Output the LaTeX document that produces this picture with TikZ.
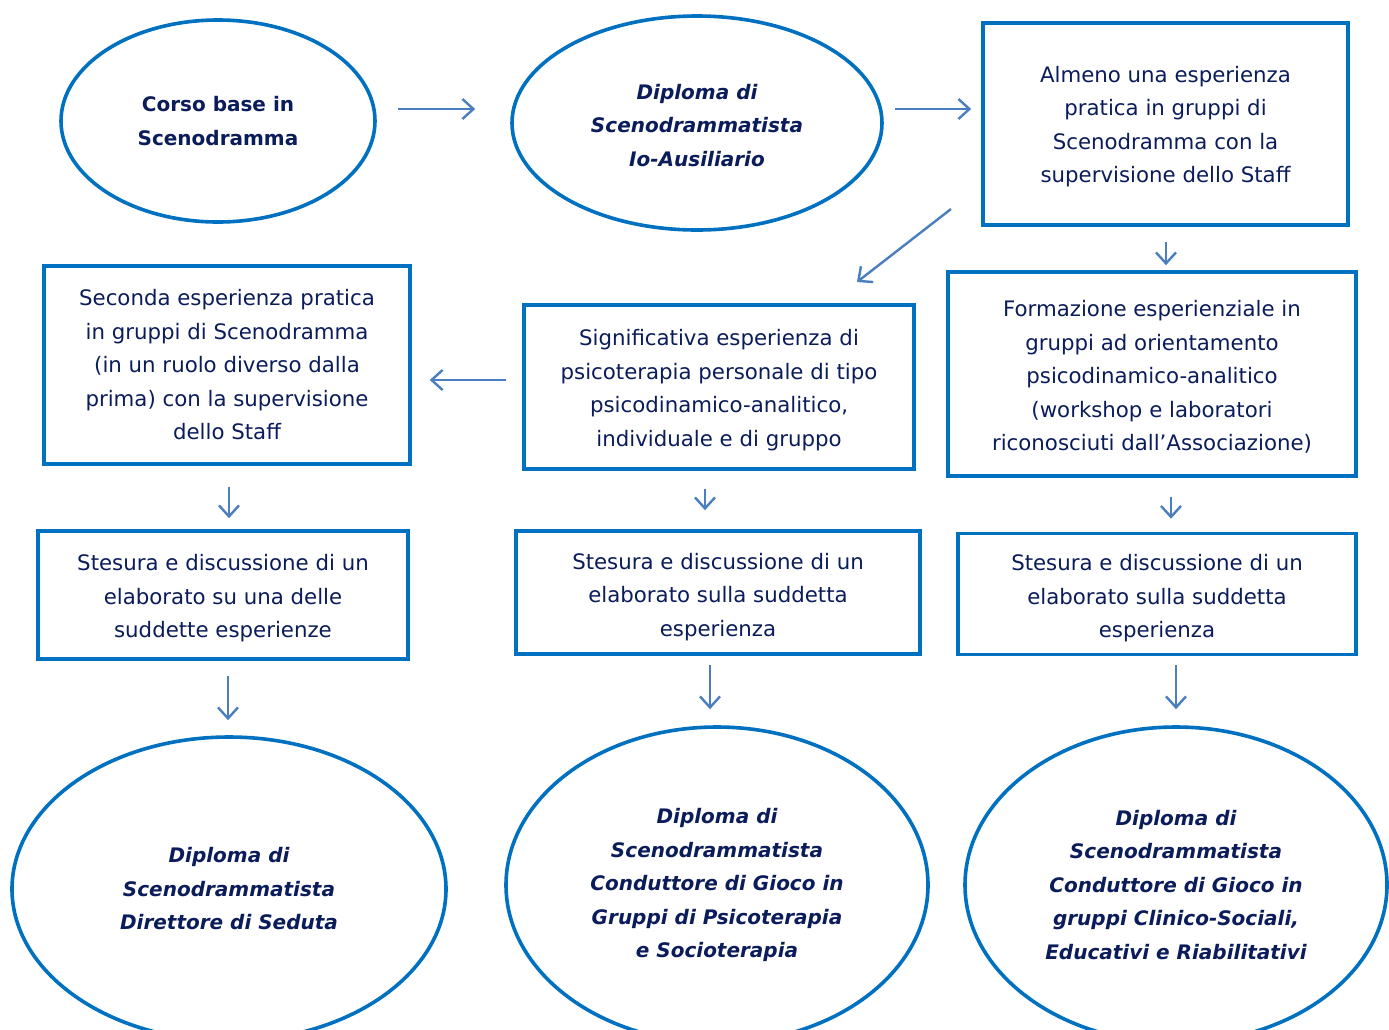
\documentclass[tikz,border=0pt]{standalone}
\usepackage{fontspec}
\setmainfont{DejaVu Sans}
\usetikzlibrary{arrows.meta,shapes.geometric}
\definecolor{txt}{HTML}{0B1C5A}
\definecolor{bord}{HTML}{0070C0}
\definecolor{arr}{HTML}{4A7EBE}
\newcommand\pushdn[1]{\mbox{}\\[#1]}
\tikzset{
  boxnode/.style={draw=bord,line width=3.6pt,rectangle,text=txt,align=center,inner sep=0pt,
    font=\fontsize{21.3}{33.5}\selectfont},
  ellnode/.style={draw=bord,line width=3.6pt,ellipse,text=txt,align=center,inner sep=0pt,
    font=\fontsize{20}{33.5}\selectfont\bfseries\itshape},
  conn/.style={draw=arr,line width=2.4pt,-{Straight Barb[length=11pt,width=20pt,line width=2.4pt]}},
}
\begin{document}
\begin{tikzpicture}[x=1pt,y=-1pt]
\useasboundingbox (0,0) rectangle (1389,1029);
\fill[white] (0,0) rectangle (1389,1029);
\begin{scope}
\clip (0,0) rectangle (1389,1029);
% top row
\node[ellnode,minimum width=314pt,minimum height=202pt,font=\fontsize{20}{33.5}\selectfont\bfseries] (e1) at (218,121) {Corso base in\\Scenodramma};
\node[ellnode,minimum width=370pt,minimum height=214pt] (e2) at (697,123) {\pushdn{-14pt}Diploma di\\Scenodrammatista\\Io-Ausiliario};
\node[boxnode,minimum width=365pt,minimum height=202pt] (b1) at (1165.5,124) {\pushdn{-12pt}Almeno una esperienza\\pratica in gruppi di\\Scenodramma con la\\supervisione dello Staff};
% second row
\node[boxnode,minimum width=366pt,minimum height=198pt] (sec) at (227,365) {Seconda esperienza pratica\\in gruppi di Scenodramma\\(in un ruolo diverso dalla\\prima) con la supervisione\\dello Staff};
\node[boxnode,minimum width=390pt,minimum height=164pt] (sig) at (719,387) {\pushdn{-11pt}Significativa esperienza di\\psicoterapia personale di tipo\\psicodinamico-analitico,\\individuale e di gruppo};
\node[boxnode,minimum width=408pt,minimum height=204pt] (form) at (1152,374) {\pushdn{-11pt}Formazione esperienziale in\\gruppi ad orientamento\\psicodinamico-analitico\\(workshop e laboratori\\riconosciuti dall’Associazione)};
% third row
\node[boxnode,minimum width=370pt,minimum height=128pt] (s1) at (223,595) {\pushdn{-11pt}Stesura e discussione di un\\elaborato su una delle\\suddette esperienze};
\node[boxnode,minimum width=404pt,minimum height=123pt] (s2) at (718,592.5) {\pushdn{-9pt}Stesura e discussione di un\\elaborato sulla suddetta\\esperienza};
\node[boxnode,minimum width=398pt,minimum height=121pt] (s3) at (1157,594) {\pushdn{-9pt}Stesura e discussione di un\\elaborato sulla suddetta\\esperienza};
% bottom row
\node[ellnode,minimum width=434pt,minimum height=304pt] (d1) at (229,889) {Diploma di\\Scenodrammatista\\Direttore di Seduta};
\node[ellnode,minimum width=422pt,minimum height=316pt] (d2) at (717,885) {Diploma di\\Scenodrammatista\\Conduttore di Gioco in\\Gruppi di Psicoterapia\\e Socioterapia};
\node[ellnode,minimum width=422pt,minimum height=316pt] (d3) at (1176,885) {Diploma di\\Scenodrammatista\\Conduttore di Gioco in\\gruppi Clinico-Sociali,\\Educativi e Riabilitativi};
\end{scope}
% connectors
\coordinate (dg1) at (951,209);
\coordinate (dg2) at (857,282);
\draw[conn,shorten <=21pt,shorten >=35pt] (e1.east |- 0,109) -- (e2.west |- 0,109);
\draw[conn,shorten <=11pt,shorten >=10pt] (e2.east |- 0,109) -- (b1.west |- 0,109);
\draw[conn] (dg1) -- (dg2);
\draw[conn,shorten <=15pt,shorten >=5pt] (b1.south -| 1166,0) -- (form.north -| 1166,0);
\draw[conn,shorten <=16pt,shorten >=18pt] (sig.west |- 0,380) -- (sec.east |- 0,380);
\draw[conn,shorten <=21pt,shorten >=11pt] (sec.south -| 229,0) -- (s1.north -| 229,0);
\draw[conn,shorten <=18pt,shorten >=19pt] (sig.south -| 705,0) -- (s2.north -| 705,0);
\draw[conn,shorten <=19pt,shorten >=13pt] (form.south -| 1171,0) -- (s3.north -| 1171,0);
\draw[conn,shorten <=15pt,shorten >=15pt] (s1.south -| 228,0) -- (d1.north -| 228,0);
\draw[conn,shorten <=9pt,shorten >=16pt] (s2.south -| 710,0) -- (d2.north -| 710,0);
\draw[conn,shorten <=9pt,shorten >=16pt] (s3.south -| 1176,0) -- (d3.north -| 1176,0);
\end{tikzpicture}
\end{document}
